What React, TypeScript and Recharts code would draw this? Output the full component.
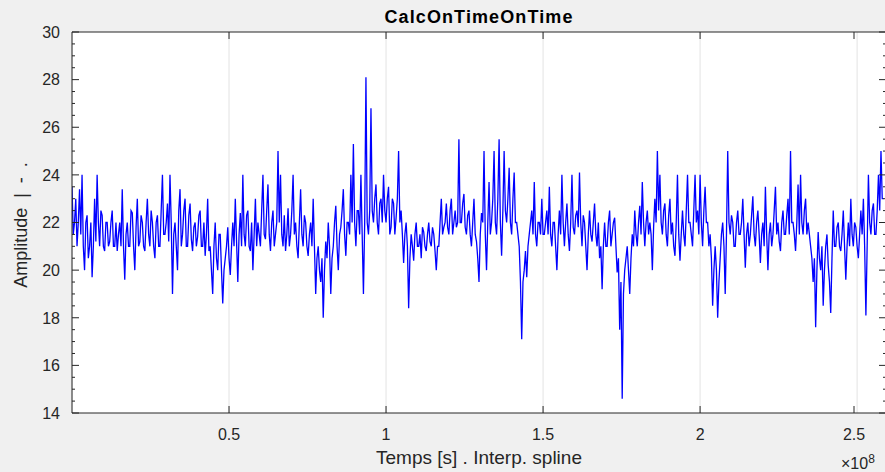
import { LineChart, Line, XAxis, YAxis, CartesianGrid, ReferenceLine } from 'recharts';

// sampling grid of the trace (seconds)
const T_START = 0;
const T_STEP = 0.004e8;

// amplitude, one value per sample
const amplitude = [
  23.5, 21.5, 22, 23, 21, 22, 23.4, 21.5, 24, 21, 20, 22, 22.3, 20.5, 21, 22, 19.7, 21, 23, 21.2,
  24, 22, 21, 22.5, 22.3, 21, 20.8, 22, 22, 21, 21.2, 22, 22.5, 21, 21, 22, 20.8, 21.5, 22, 21,
  23.4, 21, 19.6, 21.5, 22, 21, 21, 22.5, 22.4, 21, 20, 21.8, 23, 21, 21.2, 22.3, 22, 21, 20.8, 22,
  23, 21.5, 21, 22.5, 22, 21, 20.5, 22, 22.3, 21, 21, 22.5, 24, 21.5, 21.5, 22, 22.8, 21.2, 24, 22,
  19, 21.5, 22, 21, 20, 22.5, 23.4, 21, 21.5, 22.5, 23, 21, 21, 22.3, 22.8, 21.3, 20.8, 21.8, 22, 21,
  21.4, 22.3, 22.5, 21, 21, 22, 20.6, 21.5, 23, 20.8, 21, 20, 19, 21, 22, 20.5, 20, 21.5, 21.5, 20,
  18.6, 20, 20.5, 21, 21.8, 20.5, 19.8, 21, 22, 21, 23, 21.2, 19.5, 21.5, 22.4, 21, 24, 21.5, 21, 22.3,
  22.5, 21, 20.8, 22, 20, 21.5, 23, 21, 22, 21.5, 21, 22.5, 24, 21.5, 21.3, 22.5, 23.6, 21.5, 20.8, 22,
  22.5, 21, 21.5, 22, 25, 22, 24, 21.5, 21, 22.3, 20.8, 21.5, 22.6, 21, 21.5, 22.5, 24, 21.5, 22, 21,
  20.5, 22, 23.4, 21.5, 21, 22.3, 22, 21, 20.6, 21.5, 22, 21, 23, 21, 19, 20.5, 21, 20, 19.5, 20.5,
  18, 20, 21.2, 20.5, 22, 21, 19, 20.5, 21, 22, 22.7, 21, 20, 21.5, 21.8, 22.5, 23.4, 21.5, 20.6, 22,
  22, 21.5, 24, 22, 25.3, 22, 21, 22.5, 22.5, 21.5, 24, 21.5, 19, 22, 28.1, 22, 21.5, 22.5, 26.8, 22.5,
  22, 23, 23.6, 22, 21.5, 22.8, 23, 22, 24, 22.5, 22, 23, 23.5, 21.5, 21.8, 23, 22.8, 21.5, 22.2, 23,
  25, 22, 22.5, 21.5, 20.3, 21.5, 22, 21, 18.4, 20.5, 21.5, 21, 20.4, 21.5, 22, 21, 21, 21.5, 20.5, 21.8,
  21.6, 21, 20.8, 21.5, 22, 21.2, 21, 21.8, 21.5, 20.8, 20, 21, 21, 22, 23, 21.5, 21.8, 22, 22.8, 21.8,
  21.5, 22.5, 23, 21.5, 22, 22.5, 21.8, 22, 25.5, 22, 22, 22.8, 23.2, 21.8, 21.5, 22.3, 22.5, 21.5, 21, 22,
  23, 21.5, 21.2, 20.5, 19.5, 21.5, 22.4, 22, 25, 21.5, 20, 22, 23.7, 21.5, 22, 23, 25, 22, 21.5, 23,
  25.5, 22, 20.6, 22.5, 25, 22.5, 22, 23, 24.3, 22, 21.5, 23, 24.1, 22, 22, 21.5, 21, 19.5, 17.1, 19.5,
  20, 20.8, 19.7, 21, 21.5, 22, 22.5, 21.5, 23.7, 21.5, 21, 22, 22, 21.5, 23, 21.5, 21.5, 22, 22.5, 21.5,
  23.5, 21.5, 21, 22, 22, 21, 20, 21.5, 22.5, 21.5, 24, 22, 21, 22, 22.8, 21.5, 20.8, 22, 24, 21.8,
  21.5, 22.3, 22.5, 21.8, 24.1, 22, 21, 22.3, 22, 21, 20, 21.5, 22.5, 21.5, 21.2, 22, 22.8, 21.5, 21, 22,
  20.5, 21, 19.2, 21, 22, 21, 21, 22, 22.5, 21, 21.5, 22, 22.2, 21, 19.9, 20.5, 17.5, 19.5, 14.6, 19,
  20, 20.5, 21, 20, 19, 20.5, 21.5, 21, 22.5, 21.5, 21, 22, 22.7, 21.5, 23.7, 22, 21, 22, 22.5, 21.5,
  22, 21.5, 20, 21.8, 23, 22, 25, 22.5, 24, 22, 21.5, 22.5, 22.8, 21.5, 21, 22.3, 23, 21.5, 22, 21,
  20.6, 22, 24, 21.5, 20.4, 21.5, 22.5, 21.5, 21, 22.5, 24, 22, 22, 21.5, 21, 22.5, 24, 22, 22.5, 21.5,
  24, 22, 21, 22.5, 23.5, 22, 22, 21, 21.5, 20.5, 18.5, 20, 21, 20, 18, 19.5, 20.5, 21.5, 22, 21,
  19, 21.5, 25, 22, 21.5, 22.3, 22, 21, 21, 22, 22.5, 21.5, 21.5, 22, 23, 21.5, 20.1, 21.5, 22, 21,
  21.5, 22.3, 23.1, 21.5, 21, 22, 22.5, 21.5, 20.3, 21.5, 22, 21, 23.5, 21.5, 20, 21.5, 22, 21, 21.5, 22.5,
  23.5, 21.5, 22, 21.2, 20.8, 22, 22.5, 21.5, 21.5, 22.3, 23, 21.5, 25, 22, 22, 21.5, 20.8, 22, 23.6, 21.5,
  24, 22, 21.5, 22.5, 23, 21.5, 22, 21.5, 21, 20.5, 19.5, 20.5, 17.6, 20, 21.6, 20.5, 20, 21, 18.5, 20,
  21, 21.5, 20.2, 19.5, 18.2, 20.5, 22.5, 21, 21, 21.8, 22, 21, 20.8, 21.5, 22.5, 21, 19.6, 21, 22, 21,
  23, 21.5, 21, 22, 21.8, 21, 20.5, 21.5, 22.5, 21.5, 23, 21, 18.1, 21, 24, 22, 21.5, 22.5, 22.8, 21.5,
  21.5, 22.5, 24, 22.5, 25, 23, 23,
];

const xTicks = [0.5e8, 1e8, 1.5e8, 2e8, 2.5e8];
// every half unit gets a small tick, even values get a label
const yTicks = [
  14, 14.5, 15, 15.5, 16, 16.5, 17, 17.5, 18, 18.5, 19, 19.5, 20, 20.5, 21, 21.5,
  22, 22.5, 23, 23.5, 24, 24.5, 25, 25.5, 26, 26.5, 27, 27.5, 28, 28.5, 29, 29.5, 30,
];

const X_DOMAIN: [number, number] = [0, 2.592e8];
const Y_DOMAIN: [number, number] = [14, 30];

const data = amplitude.map((v, i) => ({ t: T_START + i * T_STEP, v }));

const AXIS = '#262626';
const FONT = '"Liberation Sans", Arial, Helvetica, sans-serif';

// plot box edges (px)
const PLOT_LEFT = 72;
const PLOT_RIGHT = 886;
const PLOT_TOP = 32;
const PLOT_BOTTOM = 413;

function YTick(props: any) {
  const { x, y, payload } = props;
  const v = payload.value as number;
  const major = v % 2 === 0;
  const len = major ? 7 : 3;
  return (
    <g>
      <line x1={PLOT_LEFT} x2={PLOT_LEFT + len} y1={y} y2={y} stroke={AXIS} />
      <line x1={PLOT_RIGHT - len} x2={PLOT_RIGHT} y1={y} y2={y} stroke={AXIS} />
      {major && (
        <text x={x} y={y} dy="0.36em" textAnchor="end" fill={AXIS} fontSize={16} fontFamily={FONT}>
          {v}
        </text>
      )}
    </g>
  );
}

function XTick(props: any) {
  const { x, y, payload } = props;
  return (
    <g>
      <line x1={x} x2={x} y1={PLOT_BOTTOM} y2={PLOT_BOTTOM - 7} stroke={AXIS} />
      <line x1={x} x2={x} y1={PLOT_TOP} y2={PLOT_TOP + 7} stroke={AXIS} />
      <text x={x} y={y} dy="0.71em" textAnchor="middle" fill={AXIS} fontSize={16} fontFamily={FONT}>
        {payload.value / 1e8}
      </text>
    </g>
  );
}

export default function App() {
  return (
    <div
      style={{
        position: 'absolute',
        left: 0,
        top: 0,
        width: 885,
        height: 472,
        overflow: 'hidden',
        background: '#f0f0f0',
        fontFamily: FONT,
      }}
    >
      <LineChart
        width={890}
        height={472}
        data={data}
        margin={{ top: PLOT_TOP, right: 890 - PLOT_RIGHT, bottom: 0, left: 0 }}
      >
        <CartesianGrid xAxisId="x" yAxisId="y" horizontal={false} stroke="#e3e3e3" fill="#ffffff" />
        <XAxis
          xAxisId="x"
          dataKey="t"
          type="number"
          domain={X_DOMAIN}
          allowDataOverflow
          ticks={xTicks}
          height={472 - PLOT_BOTTOM}
          tickLine={false}
          tickSize={7}
          tickMargin={9}
          axisLine={{ stroke: AXIS }}
          tick={<XTick />}
        />
        <YAxis
          yAxisId="y"
          type="number"
          domain={Y_DOMAIN}
          ticks={yTicks}
          interval={0}
          width={PLOT_LEFT}
          tickLine={false}
          tickSize={6}
          tickMargin={6}
          axisLine={{ stroke: AXIS }}
          tick={<YTick />}
        />
        <ReferenceLine xAxisId="x" yAxisId="y" y={30} stroke={AXIS} />
        <ReferenceLine xAxisId="x" yAxisId="y" x={X_DOMAIN[1]} stroke={AXIS} />
        <Line
          xAxisId="x"
          yAxisId="y"
          dataKey="v"
          type="linear"
          stroke="#0000ff"
          strokeWidth={1.3}
          dot={false}
          isAnimationActive={false}
        />
      </LineChart>
      <div
        style={{
          position: 'absolute',
          left: 0,
          width: 958,
          top: 7,
          textAlign: 'center',
          fontWeight: 'bold',
          fontSize: 18,
          letterSpacing: 1.1,
          color: '#000',
        }}
      >
        CalcOnTimeOnTime
      </div>
      <div
        style={{
          position: 'absolute',
          left: 0,
          width: 958,
          top: 447,
          textAlign: 'center',
          fontSize: 19,
          color: AXIS,
        }}
      >
        Temps [s] . Interp. spline
      </div>
      <div
        style={{
          position: 'absolute',
          left: 21,
          top: 225,
          transform: 'translate(-50%, -50%) rotate(-90deg)',
          fontSize: 18,
          color: AXIS,
          whiteSpace: 'pre',
        }}
      >
        {'Amplitude  |  -  .'}
      </div>
      <div
        style={{
          position: 'absolute',
          left: 841,
          top: 452,
          fontSize: 16,
          color: AXIS,
          whiteSpace: 'nowrap',
        }}
      >
        ×10<sup style={{ fontSize: 12 }}>8</sup>
      </div>
    </div>
  );
}
